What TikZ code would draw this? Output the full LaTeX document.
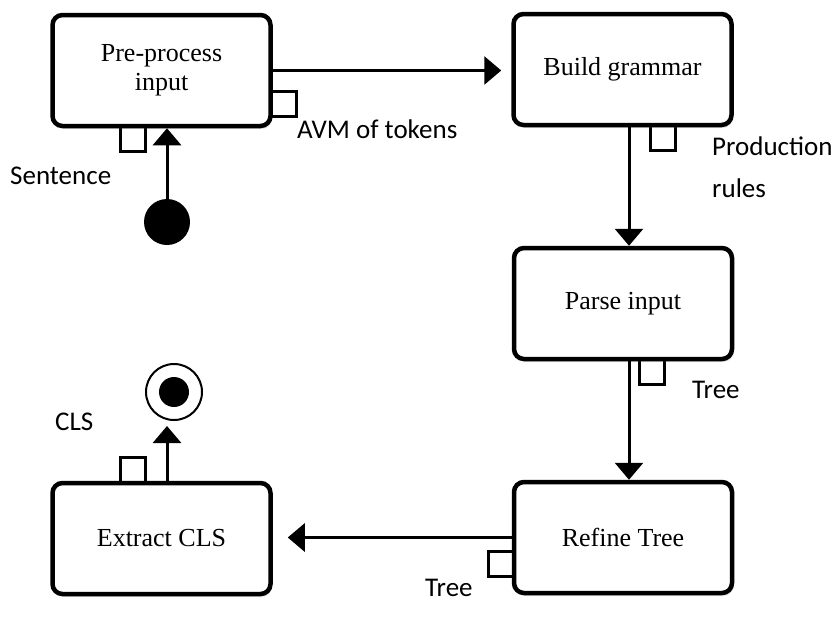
\documentclass[tikz,border=0pt]{standalone}
\usepackage{fontspec}
\setmainfont{Liberation Serif}
\newfontfamily\lblfont{Carlito}
\usetikzlibrary{arrows.meta,shadows,backgrounds}
\tikzset{
  task/.style={draw,line width=4.5pt,rounded corners=10pt,fill=white,
    minimum width=218pt,minimum height=111pt,align=center,
    font=\fontsize{26}{29}\selectfont,
    drop shadow={opacity=0.2,shadow xshift=1.5pt,shadow yshift=-3pt}},
  port/.style={draw,line width=3pt,fill=white,minimum size=25pt,inner sep=0pt},
  flow/.style={line width=3pt,-{Triangle[length=17pt,width=28pt]}},
  lbl/.style={font=\lblfont\fontsize{27}{42}\selectfont,inner sep=0pt,align=left},
  initial/.style={circle,fill,minimum size=46pt,inner sep=0pt},
  final/.style={circle,draw,line width=2pt,minimum size=56pt,inner sep=0pt},
  finaldot/.style={circle,fill,minimum size=30pt,inner sep=0pt}
}

\begin{document}
\begin{tikzpicture}[x=1pt,y=-1pt]
  \useasboundingbox (0,0) rectangle (840,619);
  %
  % -- The five activities
  \node[task] (pre)     at (161.5,70.5)  {Pre-process\\input};
  \node[task] (gram)    at (622.5,69.5)  {Build grammar};
  \node[task] (parse)   at (623,303.5)   {Parse input};
  \node[task] (refine)  at (623,537.5)   {Refine Tree};
  \node[task] (extract) at (161.5,538.5) {Extract CLS};

  % -- Pins, tucked under the activity borders
  \begin{scope}[on background layer]
    \node[port,anchor=west]  (preout)     at ([xshift=-3pt,yshift=-33pt]pre.east)        {};
    \node[port,anchor=north] (prein)      at ([xshift=-29pt,yshift=3pt]pre.south)       {};
    \node[port,anchor=north] (gramout)    at ([xshift=40.5pt,yshift=3pt]gram.south)     {};
    \node[port,anchor=north] (parseout)   at ([xshift=28.5pt,yshift=3pt]parse.south)    {};
    \node[port,anchor=east]  (refineout)  at ([xshift=3pt,yshift=-26pt]refine.west)     {};
    \node[port,anchor=south] (extractout) at ([xshift=-28.5pt,yshift=-3pt]extract.north) {};
  \end{scope}

  % -- Initial and final states
  \node[initial] (start) at (167,222) {};
  \node[final] (stop) at (174,392) {};
  \node[finaldot] (stopdot) at (174,392) {};

  % -- Pin labels
  \node[lbl,anchor=west] (sentlbl)  at (10,176)  {Sentence};
  \node[lbl,anchor=west] (avmlbl)   at (297,129) {AVM of tokens};
  \node[lbl,anchor=west] (prodlbl)  at (712,167) {Production\\rules};
  \node[lbl,anchor=west] (treelbl)  at (692,390) {Tree};
  \node[lbl,anchor=west] (treelblb) at (425,588) {Tree};
  \node[lbl,anchor=west] (clslbl)   at (55,422)  {CLS};

  % -- Control flow
  \coordinate (gramdown)  at ([xshift=6.5pt]gram.south);
  \coordinate (parsedown) at ([xshift=6pt]parse.south);
  \coordinate (extractup) at ([xshift=5.5pt]extract.north);
  \draw[flow] (start) -- (start |- pre.south);
  \draw[flow,shorten >=10pt] (pre.east) -- (pre.east -| gram.west);
  \draw[flow] (gramdown) -- (gramdown |- parse.north);
  \draw[flow] (parsedown) -- (parsedown |- refine.north);
  \draw[flow,shorten >=15pt] (refine.west) -- (refine.west -| extract.east);
  \draw[flow,shorten >=5pt] (extractup) -- (extractup |- stop.south);
\end{tikzpicture}
\end{document}
